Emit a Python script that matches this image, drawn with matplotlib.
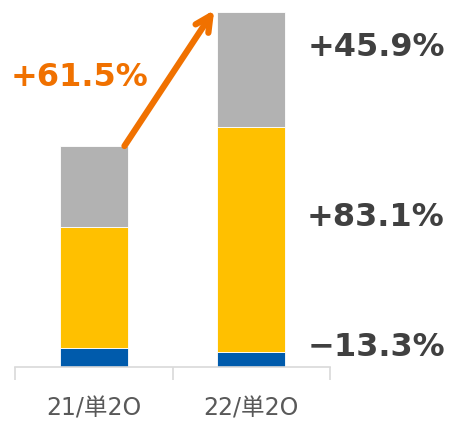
import matplotlib
matplotlib.use("Agg")
import matplotlib.pyplot as plt
import numpy as np

plt.rcParams['font.family'] = ['DejaVu Sans', 'Noto Sans CJK JP']

categories = ["21/単2O", "22/単2O"]
blue = [19, 15]
yellow = [121, 225]
gray = [81, 115]
seg_labels = ["+45.9%", "+83.1%", "\u221213.3%"]
growth_label = "+61.5%"

c_blue = "#005BAC"
c_yellow = "#FFC000"
c_gray = "#B2B2B2"
c_orange = "#F07100"
c_text = "#404040"

fig = plt.figure(figsize=(4.53, 4.21), dpi=100)
ax = fig.add_axes([15/453, 54/421, 315/453, 367/421])

x = np.arange(len(categories))
w = 0.43
b = np.array(blue)
yl = np.array(yellow)
g = np.array(gray)
ax.bar(x, b, w, color=c_blue, edgecolor="white", linewidth=0.6)
ax.bar(x, yl, w, bottom=b, color=c_yellow, edgecolor="white", linewidth=0.6)
ax.bar(x, g, w, bottom=b + yl, color=c_gray, edgecolor="white", linewidth=0.6)

ax.set_xlim(-0.5, 1.5)
ax.set_ylim(0, 367)
for s in ["top", "right", "left"]:
    ax.spines[s].set_visible(False)
ax.spines["bottom"].set_color("#D9D9D9")
ax.spines["bottom"].set_linewidth(1.2)
ax.set_yticks([])
ax.set_xticks([-0.5, 0.5, 1.5], minor=False)
ax.set_xticklabels([])
ax.tick_params(axis="x", which="major", length=9, color="#D9D9D9", width=1.2)
ax.set_xticks(x, minor=True)
ax.set_xticklabels(categories, minor=True, fontsize=17, color="#595959")
ax.tick_params(axis="x", which="minor", length=0, pad=21)

# growth arrow
tot = b + yl + g
ax.annotate("", xy=(x[1] - w/2 - 0.02, tot[1] + 2), xytext=(x[0] + w/2 - 0.02, tot[0]),
            arrowprops=dict(arrowstyle="->,head_length=1.1,head_width=0.55", color=c_orange, lw=4.5,
                            shrinkA=0, shrinkB=0, capstyle="round", joinstyle="round"))

fig.text(80/453, 1 - 77/421, growth_label, color=c_orange, fontsize=23, fontweight="bold",
         ha="center", va="center")
ys = [47, 218, 348]
for lab, yy in zip(seg_labels, ys):
    fig.text(376/453, 1 - yy/421, lab, color=c_text, fontsize=23, fontweight="bold",
             ha="center", va="center")

fig.savefig("out.png", dpi=100)
